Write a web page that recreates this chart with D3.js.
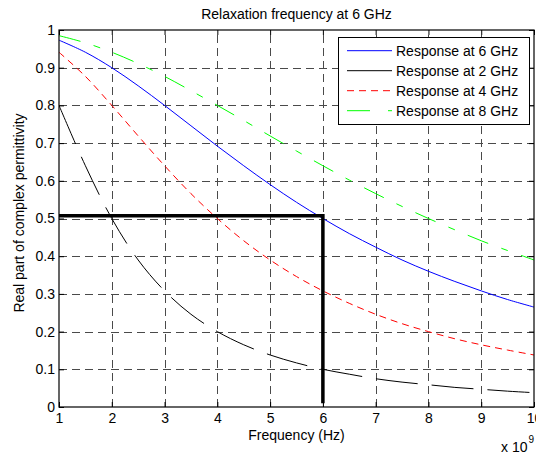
<!DOCTYPE html>
<html>
<head>
<meta charset="utf-8">
<script src="https://cdn.jsdelivr.net/npm/d3@7"></script>
<style>
  html, body { margin: 0; padding: 0; background: #fff; }
  svg { display: block; font-family: "Liberation Sans", Arial, sans-serif; }
</style>
</head>
<body>
<svg id="chart" width="536" height="455"></svg>
<script>
// ---- Data ----
const freq = [1, 1.5, 2, 2.5, 3, 3.5, 4, 4.5, 5, 5.5, 6, 6.5, 7, 7.5, 8, 8.5, 9, 9.5, 10];
const blueVals  = [0.973, 0.941, 0.900, 0.852, 0.800, 0.746, 0.692, 0.640, 0.590, 0.543, 0.500, 0.460, 0.424, 0.390, 0.360, 0.333, 0.308, 0.285, 0.265];
const blackVals = [0.800, 0.640, 0.500, 0.390, 0.308, 0.246, 0.200, 0.165, 0.138, 0.117, 0.100, 0.087, 0.075, 0.066, 0.059, 0.052, 0.047, 0.042, 0.038];
const redVals   = [0.941, 0.877, 0.800, 0.719, 0.640, 0.566, 0.500, 0.441, 0.390, 0.346, 0.308, 0.275, 0.246, 0.221, 0.200, 0.181, 0.165, 0.151, 0.138];
const greenVals = [0.985, 0.966, 0.941, 0.911, 0.877, 0.839, 0.800, 0.760, 0.719, 0.679, 0.640, 0.602, 0.566, 0.532, 0.500, 0.470, 0.441, 0.415, 0.390];
const legendLabels = ["Response at 6 GHz", "Response at 2 GHz", "Response at 4 GHz", "Response at 8 GHz"];
const markerX = [1, 6, 6];
const markerY = [0.507, 0.507, 0.01];
const xTicks = [1, 2, 3, 4, 5, 6, 7, 8, 9, 10];
const yTicks = [0, 0.1, 0.2, 0.3, 0.4, 0.5, 0.6, 0.7, 0.8, 0.9, 1];
const titleText = "Relaxation frequency at 6 GHz";
const xLabel = "Frequency (Hz)";
const yLabel = "Real part of complex permittivity";

// ---- Styles ----
const seriesStyle = [
  { vals: blueVals,  color: "#0000ff", dash: null,          legendDash: null },
  { vals: blackVals, color: "#000000", dash: "42,14",       legendDash: null },
  { vals: redVals,   color: "#ff0000", dash: "7,5",         legendDash: "7,5" },
  { vals: greenVals, color: "#00ff00", dash: "22,14,7,14",  legendDash: "23,18,4,10" }
];

const svg = d3.select("#chart");
const L = 59, R = 534, T = 30, B = 407;
const x = d3.scaleLinear().domain([1, 10]).range([L, R]);
const y = d3.scaleLinear().domain([0, 1]).range([B, T]);

svg.append("defs").append("clipPath").attr("id", "clip")
  .append("rect").attr("x", L).attr("y", T).attr("width", R - L).attr("height", B - T);

// Grid
const grid = svg.append("g").attr("stroke", "#4a4a4a").attr("stroke-width", 1)
  .attr("stroke-dasharray", "8,5").attr("fill", "none");
xTicks.slice(1, -1).forEach(t => {
  grid.append("line").attr("x1", Math.round(x(t)) + 0.5).attr("x2", Math.round(x(t)) + 0.5)
    .attr("y1", B).attr("y2", T);
});
yTicks.slice(1, -1).forEach(t => {
  grid.append("line").attr("y1", Math.round(y(t)) + 0.5).attr("y2", Math.round(y(t)) + 0.5)
    .attr("x1", L).attr("x2", R);
});

// Axes with inward ticks
const fmtY = d => d === 0 ? "0" : (d === 1 ? "1" : d3.format(".1f")(d));
const axB = svg.append("g").attr("transform", `translate(0,${B})`)
  .call(d3.axisBottom(x).tickValues(xTicks).tickFormat(d3.format("d")).tickSizeInner(-5).tickSizeOuter(0).tickPadding(6));
const axT = svg.append("g").attr("transform", `translate(0,${T})`)
  .call(d3.axisTop(x).tickValues(xTicks).tickFormat("").tickSizeInner(-5).tickSizeOuter(0));
const axLft = svg.append("g").attr("transform", `translate(${L},0)`)
  .call(d3.axisLeft(y).tickValues(yTicks).tickFormat(fmtY).tickSizeInner(-5).tickSizeOuter(0).tickPadding(4));
const axRt = svg.append("g").attr("transform", `translate(${R},0)`)
  .call(d3.axisRight(y).tickValues(yTicks).tickFormat("").tickSizeInner(-5).tickSizeOuter(0));
[axB, axT, axLft, axRt].forEach(a => {
  a.select(".domain").remove();
  a.selectAll("text").attr("font-size", 14).attr("fill", "#000")
    .attr("font-family", "'Liberation Sans', Arial, sans-serif");
  a.selectAll(".tick line").attr("stroke", "#000");
});

// Curves
const line = d3.line().x((d, i) => x(freq[i])).y(d => y(d)).curve(d3.curveCatmullRom);
const curves = svg.append("g").attr("clip-path", "url(#clip)");
seriesStyle.forEach(s => {
  curves.append("path").datum(s.vals)
    .attr("d", line)
    .attr("fill", "none")
    .attr("stroke", s.color)
    .attr("stroke-width", 1)
    .attr("stroke-dasharray", s.dash);
});

// Thick marker lines
const mline = d3.line().x(d => x(d[0])).y(d => y(d[1]));
svg.append("path").datum(markerX.map((v, i) => [v, markerY[i]]))
  .attr("d", mline).attr("fill", "none").attr("stroke", "#000")
  .attr("stroke-width", 3.5).attr("stroke-linejoin", "miter");

// Box
svg.append("rect").attr("x", L).attr("y", T).attr("width", R - L).attr("height", B - T)
  .attr("fill", "none").attr("stroke", "#000").attr("stroke-width", 1.2);

// Legend
const lg = svg.append("g");
lg.append("rect").attr("x", 338.5).attr("y", 37.5).attr("width", 191).attr("height", 87)
  .attr("fill", "#fff").attr("stroke", "#000").attr("stroke-width", 1);
legendLabels.forEach((lab, i) => {
  const cy = 50.7 + i * 20;
  lg.append("line").attr("x1", 347).attr("x2", 392).attr("y1", cy).attr("y2", cy)
    .attr("stroke", seriesStyle[i].color).attr("stroke-width", 1)
    .attr("stroke-dasharray", seriesStyle[i].legendDash);
  lg.append("text").attr("x", 396).attr("y", cy + 5).attr("font-size", 14).attr("fill", "#000")
    .text(lab);
});

// Title & labels
svg.append("text").attr("x", (L + R) / 2).attr("y", 19).attr("text-anchor", "middle")
  .attr("font-size", 14).text(titleText);
svg.append("text").attr("x", (L + R) / 2).attr("y", 440).attr("text-anchor", "middle")
  .attr("font-size", 14).text(xLabel);
svg.append("text").attr("transform", `translate(24,213) rotate(-90)`)
  .attr("text-anchor", "middle").attr("font-size", 14).text(yLabel);
const ex = svg.append("text").attr("x", 501).attr("y", 452).attr("font-size", 14);
ex.append("tspan").text("x 10");
ex.append("tspan").attr("font-size", 10).attr("dy", -9).attr("dx", 1).text("9");
</script>
</body>
</html>
